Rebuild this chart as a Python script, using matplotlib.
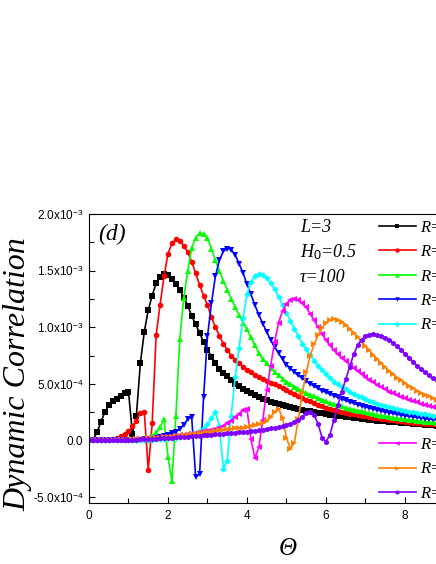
import numpy as np
import matplotlib
matplotlib.use('Agg')
import matplotlib.pyplot as plt
from matplotlib.ticker import MultipleLocator

plt.rcParams['mathtext.fontset'] = 'custom'
plt.rcParams['mathtext.rm'] = 'Liberation Sans'
plt.rcParams['mathtext.it'] = 'Liberation Serif:italic'

# Theta grid, step 0.1 from 0 to 9
theta = np.round(np.arange(91) * 0.1, 1)

# Dynamic correlation, in units of 1e-4
corr_black = [
    0.0, 0.02, 0.7, 1.6, 2.5, 3.1, 3.45, 3.7, 3.95, 4.15,
    4.32, 0.6, 2.2, 6.8, 9.6, 11.5, 12.8, 13.9, 14.45, 14.7,
    14.65, 14.3, 13.8, 13.3, 12.6, 11.9, 11.0, 10.25, 9.5, 8.7,
    8.0, 7.4, 6.85, 6.35, 5.95, 5.65, 5.3, 5.0, 4.8, 4.55,
    4.35, 4.15, 3.98, 3.82, 3.68, 3.55, 3.43, 3.32, 3.21, 3.11,
    3.02, 2.93, 2.85, 2.77, 2.7, 2.63, 2.56, 2.5, 2.44, 2.38,
    2.32, 2.27, 2.22, 2.17, 2.12, 2.08, 2.03, 1.99, 1.95, 1.91,
    1.87, 1.83, 1.79, 1.75, 1.72, 1.68, 1.65, 1.62, 1.59, 1.56,
    1.53, 1.5, 1.47, 1.44, 1.41, 1.39, 1.36, 1.34, 1.31, 1.29,
    1.27]
corr_red = [
    0.0, 0.0, 0.0, 0.01, 0.02, 0.05, 0.1, 0.2, 0.35, 0.55,
    0.8, 1.25, 1.75, 2.45, 2.5, -2.6, 1.5, 9.3, 12.0, 14.5,
    16.5, 17.4, 17.75, 17.6, 17.2, 16.6, 15.8, 14.75, 13.75, 12.8,
    11.95, 10.9, 10.0, 9.25, 8.55, 8.0, 7.5, 7.1, 6.8, 6.5,
    6.25, 6.0, 5.8, 5.6, 5.4, 5.25, 5.1, 4.95, 4.8, 4.6,
    4.45, 4.3, 4.1, 3.95, 3.75, 3.6, 3.45, 3.3, 3.15, 3.0,
    2.85, 2.75, 2.65, 2.57, 2.5, 2.43, 2.36, 2.3, 2.24, 2.18,
    2.12, 2.06, 2.0, 1.95, 1.9, 1.85, 1.8, 1.76, 1.72, 1.68,
    1.64, 1.6, 1.57, 1.54, 1.51, 1.48, 1.45, 1.42, 1.4, 1.37,
    1.35]
corr_green = [
    0.0, 0.0, 0.0, 0.0, 0.01, 0.01, 0.02, 0.02, 0.03, 0.04,
    0.05, 0.06, 0.08, 0.1, 0.15, 0.25, 0.38, 0.7, 1.15, 1.9,
    -1.5, -3.6, 2.2, 9.0, 12.6, 15.0, 17.0, 17.9, 18.3, 18.2,
    17.9, 16.9, 15.9, 15.0, 14.1, 13.3, 12.5, 11.8, 11.1, 10.4,
    9.8, 9.1, 8.4, 7.7, 7.2, 6.8, 6.4, 6.05, 5.75, 5.45,
    5.2, 4.95, 4.75, 4.55, 4.35, 4.2, 4.05, 3.9, 3.75, 3.6,
    3.45, 3.3, 3.2, 3.1, 3.0, 2.9, 2.8, 2.72, 2.64, 2.56,
    2.48, 2.4, 2.33, 2.26, 2.2, 2.14, 2.08, 2.02, 1.97, 1.92,
    1.87, 1.82, 1.78, 1.74, 1.7, 1.66, 1.62, 1.59, 1.56, 1.53,
    1.5]
corr_blue = [
    0.0, 0.0, 0.0, 0.0, 0.01, 0.01, 0.02, 0.02, 0.03, 0.03,
    0.04, 0.05, 0.06, 0.08, 0.1, 0.12, 0.15, 0.2, 0.27, 0.36,
    0.48, 0.62, 0.78, 1.0, 1.4, 1.9, 2.05, -3.2, -3.0, 3.8,
    9.2, 12.1, 14.5, 15.9, 16.7, 16.95, 16.85, 16.4, 15.6, 14.8,
    13.8, 12.9, 11.95, 11.1, 10.3, 9.6, 8.85, 8.25, 7.7, 7.15,
    6.7, 6.35, 6.05, 5.75, 5.5, 5.25, 5.0, 4.8, 4.6, 4.4,
    4.25, 4.1, 3.95, 3.8, 3.66, 3.53, 3.4, 3.28, 3.17, 3.06,
    2.96, 2.86, 2.77, 2.68, 2.6, 2.52, 2.45, 2.38, 2.31, 2.25,
    2.19, 2.13, 2.08, 2.03, 1.98, 1.93, 1.89, 1.85, 1.81, 1.77,
    1.73]
corr_cyan = [
    0.0, 0.0, 0.0, 0.0, 0.0, 0.01, 0.01, 0.01, 0.02, 0.02,
    0.03, 0.03, 0.04, 0.05, 0.06, 0.07, 0.08, 0.1, 0.12, 0.14,
    0.17, 0.2, 0.24, 0.29, 0.35, 0.43, 0.53, 0.66, 0.85, 1.1,
    1.45, 1.95, 2.5, 1.3, -2.5, -1.8, 2.2, 5.6, 8.2, 10.8,
    12.9, 14.0, 14.5, 14.7, 14.65, 14.35, 13.9, 13.35, 12.7, 11.95,
    11.25, 10.55, 9.85, 9.2, 8.55, 8.05, 7.55, 7.05, 6.6, 6.2,
    5.85, 5.5, 5.2, 4.95, 4.7, 4.5, 4.3, 4.1, 3.95, 3.8,
    3.65, 3.5, 3.38, 3.26, 3.15, 3.05, 2.95, 2.86, 2.78, 2.7,
    2.62, 2.55, 2.48, 2.42, 2.36, 2.3, 2.25, 2.2, 2.15, 2.1,
    2.05]
corr_magenta = [
    0.0, 0.0, 0.01, 0.01, 0.02, 0.03, 0.04, 0.05, 0.06, 0.07,
    0.08, 0.1, 0.12, 0.14, 0.16, 0.18, 0.21, 0.24, 0.27, 0.3,
    0.34, 0.38, 0.42, 0.46, 0.5, 0.55, 0.6, 0.66, 0.72, 0.79,
    0.86, 0.93, 1.02, 1.12, 1.3, 1.5, 1.75, 2.05, 2.35, 2.65,
    2.75, 0.1, -1.55, -0.6, 1.8, 4.45, 6.6, 8.7, 10.4, 11.45,
    12.05, 12.4, 12.5, 12.4, 12.1, 11.75, 11.2, 10.6, 10.0, 9.4,
    8.85, 8.4, 7.95, 7.6, 7.3, 7.0, 6.7, 6.4, 6.12, 5.86,
    5.6, 5.35, 5.12, 4.9, 4.7, 4.5, 4.32, 4.15, 4.0, 3.85,
    3.72, 3.59, 3.47, 3.36, 3.25, 3.15, 3.05, 2.96, 2.88, 2.8,
    2.72]
corr_orange = [
    0.0, 0.0, 0.01, 0.01, 0.02, 0.03, 0.04, 0.05, 0.06, 0.07,
    0.08, 0.09, 0.11, 0.13, 0.15, 0.17, 0.19, 0.22, 0.25, 0.28,
    0.31, 0.34, 0.37, 0.41, 0.45, 0.49, 0.53, 0.58, 0.63, 0.68,
    0.73, 0.78, 0.83, 0.88, 0.93, 0.98, 1.02, 1.06, 1.1, 1.14,
    1.19, 1.25, 1.32, 1.42, 1.55, 1.75, 2.1, 2.5, 2.8, 2.0,
    0.2, -0.72, -0.2, 1.9, 4.2, 6.0, 7.5, 8.5, 9.3, 9.95,
    10.4, 10.65, 10.75, 10.65, 10.45, 10.2, 9.85, 9.5, 9.15, 8.75,
    8.35, 7.95, 7.55, 7.15, 6.8, 6.45, 6.15, 5.85, 5.55, 5.3,
    5.05, 4.8, 4.6, 4.4, 4.2, 4.05, 3.9, 3.75, 3.6, 3.47,
    3.35]
corr_violet = [
    0.0, 0.0, 0.0, 0.01, 0.01, 0.02, 0.02, 0.03, 0.04, 0.05,
    0.06, 0.07, 0.08, 0.09, 0.1, 0.12, 0.14, 0.16, 0.18, 0.2,
    0.22, 0.24, 0.26, 0.28, 0.3, 0.33, 0.36, 0.39, 0.42, 0.45,
    0.48, 0.51, 0.54, 0.57, 0.6, 0.63, 0.66, 0.69, 0.72, 0.75,
    0.78, 0.82, 0.86, 0.9, 0.95, 1.0, 1.06, 1.12, 1.18, 1.25,
    1.35, 1.47, 1.62, 1.82, 2.1, 2.42, 2.55, 2.25, 1.45, 0.25,
    -0.12, 0.5, 1.8, 3.1, 4.3, 5.4, 6.5, 7.6, 8.4, 8.9,
    9.2, 9.33, 9.36, 9.3, 9.2, 9.05, 8.85, 8.6, 8.3, 8.0,
    7.65, 7.3, 6.95, 6.6, 6.3, 6.0, 5.75, 5.5, 5.3, 5.1,
    4.9]

series = [corr_black, corr_red, corr_green, corr_blue,
          corr_cyan, corr_magenta, corr_orange, corr_violet]
labels = ['R=1', 'R=2', 'R=3', 'R=4', 'R=5', 'R=6', 'R=7', 'R=8']
colors = ['#000000', '#FF0000', '#00FF00', '#0000FF',
          '#00FFFF', '#FF00FF', '#FF8000', '#8000FF']
markers = ['s', 'o', '^', 'v', 'D', '<', '>', 'h']

yticks = [-5e-4, 0.0, 5e-4, 1e-3, 1.5e-3, 2e-3]
ytick_labels = ['-5.0x10$^{-4}$', '0.0', '5.0x10$^{-4}$',
                '1.0x10$^{-3}$', '1.5x10$^{-3}$', '2.0x10$^{-3}$']
xticks = [0, 2, 4, 6, 8, 10]

serif_it = dict(family='Liberation Serif', style='italic')

fig = plt.figure(figsize=(4.36, 5.64), dpi=100)
ax = fig.add_axes([0.2041, 0.1087, 0.906, 0.5119])

handles = []
for vals, c, m in zip(series, colors, markers):
    ms = 3.3 if m == 'D' else 4.0
    h, = ax.plot(theta, np.array(vals) * 1e-4, color=c, marker=m,
                 markersize=ms, linewidth=1.2, markeredgewidth=0)
    handles.append(h)

ax.set_xlim(0, 10)
ax.set_ylim(-5.5e-4, 2.0e-3)
ax.set_xticks(xticks)
ax.set_yticks(yticks)
ax.set_yticklabels(ytick_labels)
ax.xaxis.set_minor_locator(MultipleLocator(1))
ax.yaxis.set_minor_locator(MultipleLocator(2.5e-4))
ax.tick_params(which='both', direction='in', labelsize=8.5, width=0.8)
ax.tick_params(which='major', length=4.5)
ax.tick_params(which='minor', length=3.5)
ax.tick_params(axis='x', pad=5)
ax.tick_params(axis='y', pad=4)
for lbl in ax.get_xticklabels() + ax.get_yticklabels():
    lbl.set_family('Liberation Sans')
for sp in ax.spines.values():
    sp.set_linewidth(0.8)

# the legend labels run past the right edge, as in the source figure
leg_kw = dict(loc='upper left', bbox_transform=fig.transFigure,
              frameon=False, numpoints=1, handlelength=2.2,
              handletextpad=0.25, labelspacing=0.5, borderpad=0,
              borderaxespad=0, markerscale=0.8,
              prop=dict(size=12, **serif_it))
leg1 = ax.legend(handles[:5], labels[:5],
                 bbox_to_anchor=(379 / 436, 1 - 220 / 564), **leg_kw)
ax.add_artist(leg1)
ax.legend(handles[5:], labels[5:],
          bbox_to_anchor=(379 / 436, 1 - 437 / 564), **leg_kw)

fig.text(300 / 436, 1 - 228 / 564, 'L=3', va='center', size=13, **serif_it)
fig.text(300 / 436, 1 - 252 / 564, r'$\mathit{H_0}$=0.5', va='center',
         size=13, **serif_it)
fig.text(300 / 436, 1 - 277 / 564, '\u03c4=100', va='center', size=13,
         **serif_it)
fig.text(98 / 436, 1 - 234 / 564, '(d)', va='center', size=17, **serif_it)

fig.text(18 / 436, 1 - 374 / 564, 'Dynamic Correlation', rotation=90,
         ha='center', va='center', size=23, **serif_it)
fig.text(288 / 436, 1 - 549 / 564, '\u0398', ha='center', va='center',
         size=18, **serif_it)

fig.savefig('out.png', dpi=100)
